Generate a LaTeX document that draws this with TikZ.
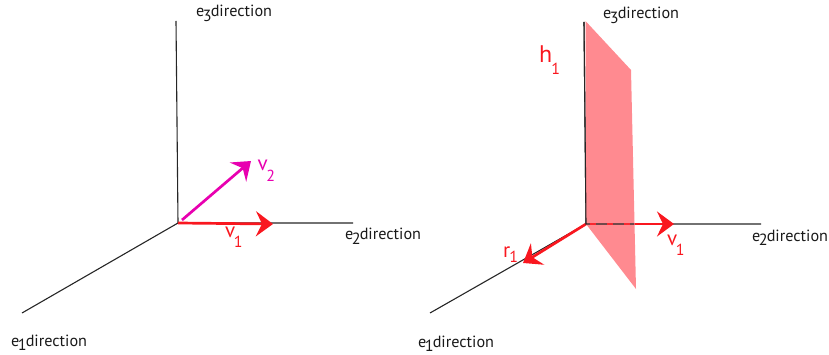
\documentclass[tikz,border=0pt]{standalone}
\usepackage{fontspec}
\setmainfont{PT Sans}
\usetikzlibrary{arrows.meta}
\definecolor{vred}{HTML}{F9171F}
\definecolor{vmag}{HTML}{E800B0}
\definecolor{plane}{HTML}{FF8A90}
\tikzset{
 axis/.style={line width=1.1pt,draw=black!85},
 vec/.style={line width=2.7pt,-{Stealth[length=17pt,width=25pt,inset=6pt]}},
 lab/.style={inner sep=0pt,anchor=base west,font=\fontsize{16.2pt}{17pt}\selectfont,text=black!90},
 vlab/.style={inner sep=0pt,anchor=base west,font=\fontsize{21pt}{22pt}\selectfont},
 hlab/.style={inner sep=0pt,anchor=base west,font=\fontsize{24pt}{25pt}\selectfont},
}
\newcommand{\dirlabel}[1]{e\kern-1.5pt\raisebox{-4.5pt}{#1}\kern-1pt direction}
\newcommand{\vsub}[4]{#1\kern#3pt\raisebox{-#4pt}{\fontsize{16pt}{16pt}\selectfont #2}}
\begin{document}
\begin{tikzpicture}[x=1pt,y=-1pt]
\useasboundingbox (0,0) rectangle (829,355);
% left
\coordinate (o) at (178,223);
\coordinate (a3) at (176,21);
\coordinate (a2) at (353,223);
\coordinate (a1) at (22,313);
\coordinate (v1e) at (273,224);
\coordinate (v2s) at (182,220);
\coordinate (v2e) at (251,161);
\draw[axis] (a3) -- (o) -- (a2);
\draw[axis] (o) -- (a1);
\draw[vec,vred] (o) -- (v1e);
\draw[vec,vmag] (v2s) -- (v2e);
\node[lab] (l3) at (196,17) {\dirlabel{3}};
\node[lab] (l2) at (345,240) {\dirlabel{2}};
\node[lab] (l1) at (11,346) {\dirlabel{1}};
\node[vlab,text=vred] (lv1) at (225,237) {\vsub{v}{1}{-1.5}{10}};
\node[vlab,text=vmag] (lv2) at (257.5,171) {\vsub{v}{2}{-1.5}{11}};
% right
\coordinate (O) at (586,224);
\coordinate (A3) at (584,22);
\coordinate (A2) at (761,224);
\coordinate (A1) at (430,313);
\coordinate (V1e) at (674,224);
\coordinate (R1e) at (523,263);
\coordinate (p1) at (585.5,21);
\coordinate (p2) at (631,70);
\coordinate (p3) at (636,289);
\coordinate (cross) at (634,224);
\draw[axis] (A3) -- (O) -- (A2);
\draw[axis] (O) -- (A1);
\draw[vec,vred] (O) -- (V1e);
\draw[vec,vred] (O) -- (R1e);
\fill[plane] (p1) -- (p2) -- (p3) -- (O) -- cycle;
\draw[axis] (A3) -- (O) -- (cross);
\draw[vred!85!plane,line width=1.4pt,dash pattern=on 6pt off 11pt,yshift=-1pt] (O) ++(4,0) -- (cross);
\node[lab] (L3) at (603,19) {\dirlabel{3}};
\node[lab] (L2) at (752,241) {\dirlabel{2}};
\node[lab] (L1) at (418,347) {\dirlabel{1}};
\node[vlab,text=vred] (Lv1) at (667,245) {\vsub{v}{1}{-1.5}{10}};
\node[vlab,text=vred] (Lr1) at (503,258) {\vsub{r}{1}{-1}{5}};
\node[hlab,text=vred] (Lh1) at (539,63) {\vsub{h}{1}{-1}{12}};
\end{tikzpicture}
\end{document}
